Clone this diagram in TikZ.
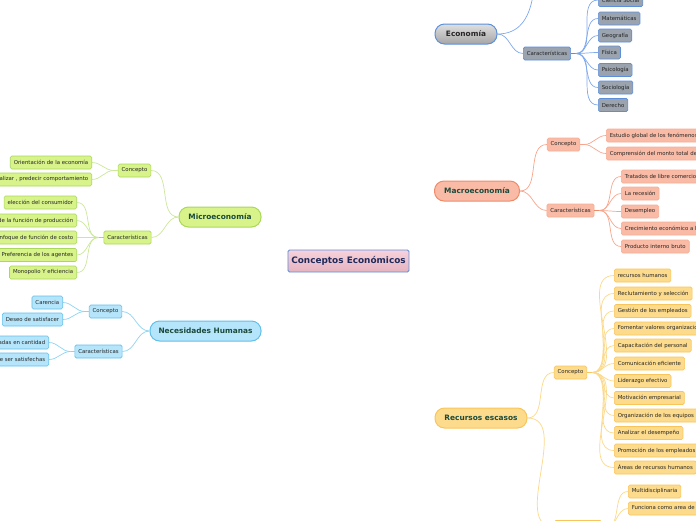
\documentclass[tikz,border=0pt]{standalone}
\usepackage{fontspec}
\setmainfont{DejaVu Sans}
\usetikzlibrary{calc}

\definecolor{ecfill}{HTML}{9AA3AE}
\definecolor{ecdraw}{HTML}{5B8FDC}
\definecolor{ecline}{HTML}{7FA9EC}
\definecolor{mafill}{HTML}{F9BBA6}
\definecolor{madraw}{HTML}{F08A68}
\definecolor{maline}{HTML}{F7A68C}
\definecolor{refill}{HTML}{FDDB8C}
\definecolor{redraw}{HTML}{F9C55A}
\definecolor{reline}{HTML}{FCD98A}
\definecolor{mifill}{HTML}{D7F38A}
\definecolor{midraw}{HTML}{A9D85A}
\definecolor{miline}{HTML}{CBE79A}
\definecolor{nefill}{HTML}{B5E5FA}
\definecolor{nedraw}{HTML}{62BFEA}
\definecolor{neline}{HTML}{8FD3F2}
\definecolor{topictext}{HTML}{1B4A3C}
\definecolor{centertext}{HTML}{1F2A5A}
\definecolor{centertop}{HTML}{F6D2DB}
\definecolor{centerbot}{HTML}{E6B3C1}

\begin{document}
\begin{tikzpicture}[x=1pt, y=-1pt,
    leaf/.style={draw, rounded corners=1.5pt, line width=0.6pt, font=\fontsize{5.4}{6}\selectfont, text=black!85, inner xsep=3.5pt, inner ysep=0pt, minimum height=13pt},
    topic/.style={draw, rounded corners=9.5pt, line width=1pt, minimum height=20pt, font=\fontsize{7.4}{8}\selectfont\bfseries, text=topictext},
    ecleaf/.style={leaf, fill=ecfill, draw=ecdraw},
    maleaf/.style={leaf, fill=mafill, draw=madraw!70},
    releaf/.style={leaf, fill=refill, draw=redraw},
    mileaf/.style={leaf, fill=mifill, draw=midraw},
    neleaf/.style={leaf, fill=nefill, draw=nedraw},
    eclink/.style={draw=ecline, line width=0.7pt},
    malink/.style={draw=maline, line width=0.7pt},
    relink/.style={draw=reline, line width=0.7pt},
    milink/.style={draw=miline, line width=0.7pt},
    nelink/.style={draw=neline, line width=0.7pt}
]
\useasboundingbox (0,0) rectangle (696,520);
\clip (0,0) rectangle (696,520);

% centre
\node[draw=ecdraw, line width=0.8pt, rounded corners=1.5pt, top color=centertop, bottom color=centerbot, minimum width=121pt, minimum height=22pt, font=\fontsize{8.9}{9}\selectfont\bfseries, text=centertext] (center) at (348.5,261) {Conceptos Económicos};

% Economia
\node[topic, draw=ecdraw, top color=gray!25, bottom color=gray!70, text=black!85, minimum width=62pt] (econ) at (466,34) {Economía};
\coordinate (ecconc) at (535,-70);
\node[ecleaf] (eccar) at (547,53.5) {Características};
\node[ecleaf, anchor=west] (ec1) at (598,0) {Ciencia Social};
\node[ecleaf, anchor=west] (ec2) at (598,18.5) {Matemáticas};
\node[ecleaf, anchor=west] (ec3) at (598,35.5) {Geografía};
\node[ecleaf, anchor=west] (ec4) at (598,52.5) {Física};
\node[ecleaf, anchor=west] (ec5) at (598,70) {Psicología};
\node[ecleaf, anchor=west] (ec6) at (598,87.5) {Sociología};
\node[ecleaf, anchor=west] (ec7) at (598,105) {Derecho};
\draw[eclink] (econ.east) to[out=0, in=-90] (ecconc);
\draw[eclink] (econ.east) to[out=0, in=180] (eccar.west);
\draw[eclink, line width=1.4pt, draw=ecdraw] (eccar.east) -- ++(5,0) coordinate (ecj);
\foreach \n in {ec1,ec2,ec3,ec4,ec5,ec6,ec7}
  \draw[eclink] (ecj) to[out=0, in=180] (\n.west);

% Macroeconomia
\node[topic, fill=mafill, draw=madraw, minimum width=85pt] (macro) at (477,191) {Macroeconomía};
\node[maleaf] (maconc) at (563.5,144.5) {Concepto};
\node[maleaf] (macar) at (570.5,210.5) {Características};
\node[maleaf, anchor=west] (ma1) at (606,135.5) {Estudio global de los fenómenos económicos};
\node[maleaf, anchor=west] (ma2) at (606,153.5) {Comprensión del monto total de la economía};
\node[maleaf, anchor=west] (ma3) at (621,176.5) {Tratados de libre comercio};
\node[maleaf, anchor=west] (ma4) at (621,193.5) {La recesión};
\node[maleaf, anchor=west] (ma5) at (621,211.5) {Desempleo};
\node[maleaf, anchor=west] (ma6) at (621,228.5) {Crecimiento económico a largo plazo};
\node[maleaf, anchor=west] (ma7) at (621,246.5) {Producto interno bruto};
\draw[malink] (macro.east) to[out=0, in=180] (maconc.west);
\draw[malink] (macro.east) to[out=0, in=180] (macar.west);
\draw[malink] (maconc.east) -- ++(4,0) coordinate (maj1);
\draw[malink, line width=1.4pt, draw=madraw] (macar.east) -- ++(5,0) coordinate (maj2);
\foreach \n in {ma1,ma2}
  \draw[malink] (maj1) to[out=0, in=180] (\n.west);
\foreach \n in {ma3,ma4,ma5,ma6,ma7}
  \draw[malink] (maj2) to[out=0, in=180] (\n.west);

% Recursos escasos
\node[topic, fill=refill, draw=redraw, minimum width=92pt] (recur) at (481,418) {Recursos escasos};
\node[releaf] (reconc) at (570.5,372.5) {Concepto};
\node[releaf] (recar) at (578,527) {Características};
\node[releaf, anchor=west] (re1) at (614,275.5) {recursos humanos};
\node[releaf, anchor=west] (re2) at (614,293.5) {Reclutamiento y selección};
\node[releaf, anchor=west] (re3) at (614,311) {Gestión de los empleados};
\node[releaf, anchor=west] (re4) at (614,328.5) {Fomentar valores organizacionales};
\node[releaf, anchor=west] (re5) at (614,345.5) {Capacitación del personal};
\node[releaf, anchor=west] (re6) at (614,363.5) {Comunicación eficiente};
\node[releaf, anchor=west] (re7) at (614,381) {Liderazgo efectivo};
\node[releaf, anchor=west] (re8) at (614,398) {Motivación empresarial};
\node[releaf, anchor=west] (re9) at (614,415.5) {Organización de los equipos};
\node[releaf, anchor=west] (re10) at (614,433) {Analizar el desempeño};
\node[releaf, anchor=west] (re11) at (614,450.5) {Promoción de los empleados};
\node[releaf, anchor=west] (re12) at (614,467.5) {Áreas de recursos humanos};
\node[releaf, anchor=west] (re13) at (628,491.5) {Multidisciplinaria};
\node[releaf, anchor=west] (re14) at (628,508.5) {Funciona como area de apoyo};
\draw[relink] (recur.east) to[out=0, in=180] (reconc.west);
\draw[relink] (recur.east) to[out=0, in=180] (recar.west);
\draw[relink, line width=1.4pt, draw=redraw] (reconc.east) -- ++(5,0) coordinate (rej1);
\draw[relink] (recar.east) -- ++(4,0) coordinate (rej2);
\foreach \n in {re1,re2,re3,re4,re5,re6,re7,re8,re9,re10,re11,re12}
  \draw[relink] (rej1) to[out=0, in=180] (\n.west);
\foreach \n in {re13,re14}
  \draw[relink] (rej2) to[out=0, in=180] (\n.west);

% Microeconomia
\node[topic, fill=mifill, draw=midraw, minimum width=82pt] (micro) at (220,217) {Microeconomía};
\node[mileaf] (miconc) at (134.5,170.5) {Concepto};
\node[mileaf] (micar) at (127.5,237.5) {Características};
\node[mileaf, anchor=east] (mi1) at (92,162.5) {Orientación de la economía};
\node[mileaf, anchor=east] (mi2) at (92,179.5) {Explicar, analizar , predecir comportamiento};
\node[mileaf, anchor=east] (mi3) at (77,202.5) {elección del consumidor};
\node[mileaf, anchor=east] (mi4) at (77,220.5) {Teoría de la función de producción};
\node[mileaf, anchor=east] (mi5) at (77,237.5) {Enfoque de función de costo};
\node[mileaf, anchor=east] (mi6) at (77,255) {Preferencia de los agentes};
\node[mileaf, anchor=east] (mi7) at (77,272.5) {Monopolio Y eficiencia};
\draw[milink] (micro.west) to[out=180, in=0] (miconc.east);
\draw[milink] (micro.west) to[out=180, in=0] (micar.east);
\draw[milink] (miconc.west) -- ++(-4,0) coordinate (mij1);
\draw[milink, line width=1.4pt, draw=midraw] (micar.west) -- ++(-5,0) coordinate (mij2);
\foreach \n in {mi1,mi2}
  \draw[milink] (mij1) to[out=180, in=0] (\n.east);
\foreach \n in {mi3,mi4,mi5,mi6,mi7}
  \draw[milink] (mij2) to[out=180, in=0] (\n.east);

% Necesidades Humanas
\node[topic, fill=nefill, draw=nedraw, minimum width=111pt] (need) at (205.5,331) {Necesidades Humanas};
\node[neleaf] (neconc) at (105.5,311.5) {Concepto};
\node[neleaf] (necar) at (98.5,351.5) {Características};
\node[neleaf, anchor=east] (ne1) at (63,302.5) {Carencia};
\node[neleaf, anchor=east] (ne2) at (63,319.5) {Deseo de satisfacer};
\node[neleaf, anchor=east] (ne3) at (49,342.5) {Ilimitadas en cantidad};
\node[neleaf, anchor=east] (ne4) at (49,359.5) {Deben de ser satisfechas};
\draw[nelink] (need.west) to[out=180, in=0] (neconc.east);
\draw[nelink] (need.west) to[out=180, in=0] (necar.east);
\draw[nelink] (neconc.west) -- ++(-4,0) coordinate (nej1);
\draw[nelink] (necar.west) -- ++(-4,0) coordinate (nej2);
\foreach \n in {ne1,ne2}
  \draw[nelink] (nej1) to[out=180, in=0] (\n.east);
\foreach \n in {ne3,ne4}
  \draw[nelink] (nej2) to[out=180, in=0] (\n.east);
\end{tikzpicture}
\end{document}
